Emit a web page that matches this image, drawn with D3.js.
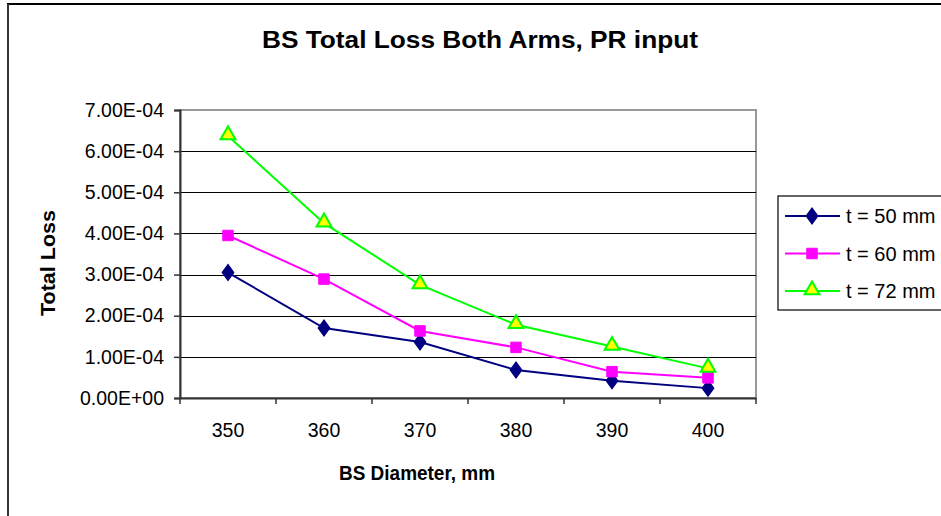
<!DOCTYPE html>
<html>
<head>
<meta charset="utf-8">
<script src="https://cdn.jsdelivr.net/npm/d3@7"></script>
<style>
  body { margin: 0; background: #fff; }
  svg { display: block; font-family: Arial, "Liberation Sans", sans-serif; }
</style>
</head>
<body>
<div id="chart"></div>
<script>
// Chart data
const diameters = ["350", "360", "370", "380", "390", "400"];
const loss50 = [3.05e-4, 1.70e-4, 1.36e-4, 0.68e-4, 0.42e-4, 0.24e-4];
const loss60 = [3.95e-4, 2.89e-4, 1.63e-4, 1.23e-4, 0.64e-4, 0.49e-4];
const loss72 = [6.37e-4, 4.25e-4, 2.75e-4, 1.78e-4, 1.25e-4, 0.72e-4];
const seriesNames = ["t = 50 mm", "t = 60 mm", "t = 72 mm"];
const yTickValues = [0, 1e-4, 2e-4, 3e-4, 4e-4, 5e-4, 6e-4, 7e-4];
const yTickLabels = ["0.00E+00", "1.00E-04", "2.00E-04", "3.00E-04", "4.00E-04", "5.00E-04", "6.00E-04", "7.00E-04"];

const width = 941, height = 516;
const plot = { left: 180, top: 110, right: 756, bottom: 398 };

const svg = d3.select("#chart").append("svg")
  .attr("width", width)
  .attr("height", height);

// Chart border (only top and left are visible in the crop)
svg.append("line").attr("x1", 7).attr("y1", 4).attr("x2", width).attr("y2", 4)
  .attr("stroke", "#000").attr("stroke-width", 2);
svg.append("line").attr("x1", 8).attr("y1", 4).attr("x2", 8).attr("y2", height)
  .attr("stroke", "#333").attr("stroke-width", 2);

// Title
svg.append("text")
  .attr("x", 480).attr("y", 48)
  .attr("text-anchor", "middle")
  .style("font-size", "23px").style("font-weight", "bold")
  .attr("textLength", 436).attr("lengthAdjust", "spacingAndGlyphs")
  .text("BS Total Loss Both Arms, PR input");

// Scales
const x = d3.scaleBand().domain(diameters).range([plot.left, plot.right]).padding(0);
const y = d3.scaleLinear().domain([0, 7e-4]).range([plot.bottom, plot.top]);

// Plot area frame (grey top and right)
svg.append("rect")
  .attr("x", plot.left).attr("y", plot.top)
  .attr("width", plot.right - plot.left).attr("height", plot.bottom - plot.top)
  .attr("fill", "none").attr("stroke", "#999").attr("stroke-width", 2);

// Gridlines
svg.append("g").selectAll("line")
  .data(yTickValues.filter(v => v > 0 && v < 7e-4))
  .enter().append("line")
  .attr("x1", plot.left).attr("x2", plot.right)
  .attr("y1", d => Math.round(y(d)) + 0.5).attr("y2", d => Math.round(y(d)) + 0.5)
  .attr("stroke", "#000").attr("stroke-width", 1.2);

// Y axis
const yAxis = svg.append("g")
  .attr("transform", "translate(" + plot.left + ",0)")
  .call(d3.axisLeft(y).tickValues(yTickValues)
    .tickFormat((d, i) => yTickLabels[i]).tickSize(6).tickPadding(10));
yAxis.select(".domain").attr("stroke", "#333").attr("stroke-width", 2);
yAxis.selectAll(".tick line").attr("stroke", "#333").attr("stroke-width", 1.5);
yAxis.selectAll(".tick text").style("font-size", "19.5px").attr("fill", "#000")
  .attr("font-family", "Arial, 'Liberation Sans', sans-serif");

// X axis
const xAxis = svg.append("g")
  .attr("transform", "translate(0," + plot.bottom + ")")
  .call(d3.axisBottom(x).tickSize(0).tickPadding(25));
xAxis.select(".domain").attr("stroke", "#333").attr("stroke-width", 2);
xAxis.selectAll(".tick text").style("font-size", "19.5px").attr("fill", "#000")
  .attr("font-family", "Arial, 'Liberation Sans', sans-serif");
// tick marks at category boundaries
const boundaries = diameters.map(d => x(d)).concat([x(diameters[diameters.length - 1]) + x.bandwidth()]);
svg.append("g").selectAll("line")
  .data(boundaries).enter().append("line")
  .attr("x1", d => d).attr("x2", d => d)
  .attr("y1", plot.bottom).attr("y2", plot.bottom + 6)
  .attr("stroke", "#333").attr("stroke-width", 1.5);

// Axis titles
svg.append("text")
  .attr("transform", "translate(55,263) rotate(-90)")
  .attr("text-anchor", "middle")
  .style("font-size", "20px").style("font-weight", "bold")
  .attr("textLength", 106).attr("lengthAdjust", "spacingAndGlyphs")
  .text("Total Loss");

svg.append("text")
  .attr("x", 417).attr("y", 480)
  .attr("text-anchor", "middle")
  .style("font-size", "20px").style("font-weight", "bold")
  .attr("textLength", 156).attr("lengthAdjust", "spacingAndGlyphs")
  .text("BS Diameter, mm");

// Series
const series = [
  { name: seriesNames[0], values: loss50, color: "#000080", fill: "#000080", symbol: d3.symbolDiamond, size: 75 },
  { name: seriesNames[1], values: loss60, color: "#FF00FF", fill: "#FF00FF", symbol: d3.symbolSquare, size: 110 },
  { name: seriesNames[2], values: loss72, color: "#00FF00", fill: "#FFFF00", symbol: d3.symbolTriangle, size: 95 }
];

const cx = d => x(d) + x.bandwidth() / 2;
const line = d3.line().x(d => cx(d[0])).y(d => y(d[1]));

function drawMarker(g, s, px, py) {
  const isTri = s.symbol === d3.symbolTriangle;
  g.append("path")
    .attr("d", d3.symbol().type(s.symbol).size(s.size)())
    .attr("transform", "translate(" + px + "," + (py + (isTri ? -1 : 0)) + ")" + (s.symbol === d3.symbolDiamond ? " scale(1.25,1)" : ""))
    .attr("fill", s.fill)
    .attr("stroke", s.color)
    .attr("stroke-width", isTri ? 2 : 1);
}

series.forEach(s => {
  const pts = diameters.map((d, i) => [d, s.values[i]]);
  svg.append("path")
    .attr("d", line(pts))
    .attr("fill", "none")
    .attr("stroke", s.color)
    .attr("stroke-width", 2);
  const g = svg.append("g");
  pts.forEach(p => drawMarker(g, s, cx(p[0]), y(p[1])));
});

// Legend
svg.append("rect")
  .attr("x", 778).attr("y", 196)
  .attr("width", 200).attr("height", 114)
  .attr("fill", "#fff").attr("stroke", "#000").attr("stroke-width", 1.2);

series.forEach((s, i) => {
  const ly = 216 + i * 37.5;
  const g = svg.append("g");
  g.append("line")
    .attr("x1", 785).attr("x2", 840).attr("y1", ly).attr("y2", ly)
    .attr("stroke", s.color).attr("stroke-width", 2);
  drawMarker(g, s, 812, ly);
  g.append("text")
    .attr("x", 846).attr("y", ly + 7)
    .style("font-size", "20px")
    .text(s.name);
});
</script>
</body>
</html>
